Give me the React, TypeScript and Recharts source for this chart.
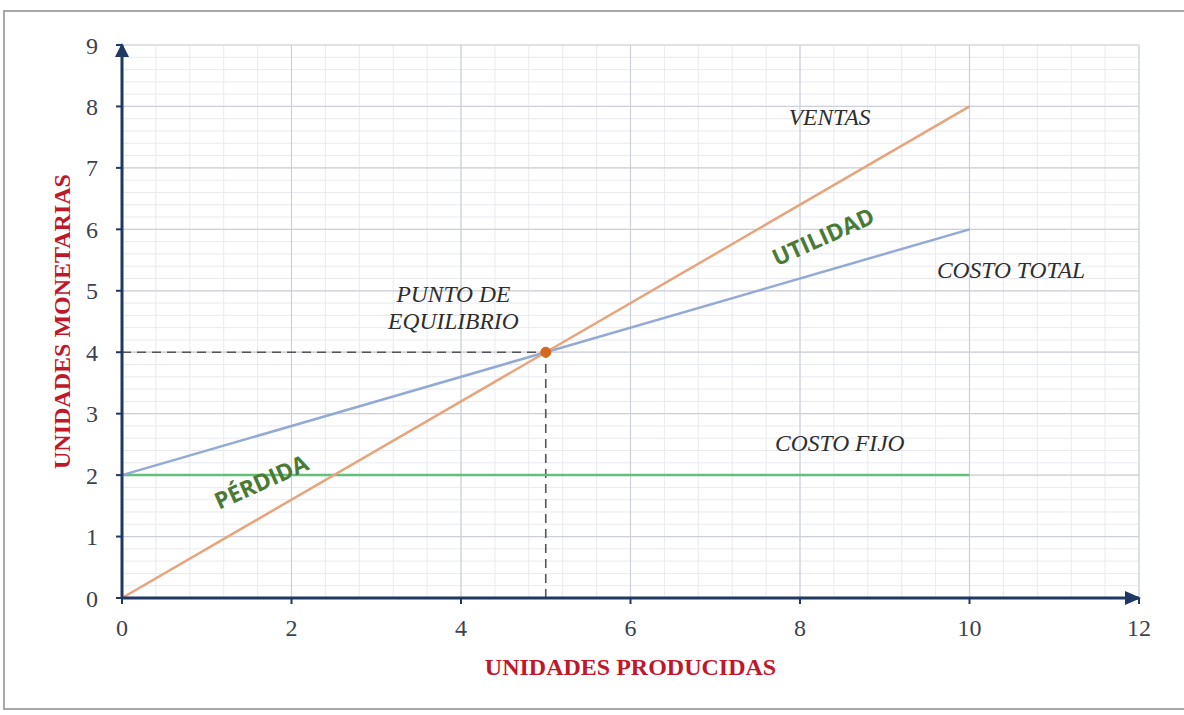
import React from 'react';
import { LineChart, Line, XAxis, YAxis, CartesianGrid, ReferenceLine, ReferenceDot } from 'recharts';

// ---- data ----
const unidades = [0, 5, 10];
const ventas = [0, 4, 8];
const costoTotal = [2, 4, 6];
const costoFijo = [2, 2, 2];

const xTicks = [0, 2, 4, 6, 8, 10, 12];
const yTicks = [0, 1, 2, 3, 4, 5, 6, 7, 8, 9];

const breakEven = { x: 5, y: 4 };

const italicLabels = [
  { text: 'VENTAS', x: 8.35, y: 7.83 },
  { text: 'COSTO TOTAL', x: 10.49, y: 5.34 },
  { text: 'COSTO FIJO', x: 8.47, y: 2.52 },
  { text: 'PUNTO DE', x: 3.91, y: 4.95 },
  { text: 'EQUILIBRIO', x: 3.91, y: 4.51 },
];

const zoneLabels = [
  { text: 'UTILIDAD', x: 8.27, y: 5.89, angle: -24 },
  { text: 'PÉRDIDA', x: 1.64, y: 1.9, angle: -24 },
];

const steps = (end: number, step: number) => {
  const out: number[] = [];
  for (let i = 0; i * step <= end + 1e-9; i++) out.push(+(i * step).toFixed(4));
  return out;
};
const xMinor = steps(12, 0.4);
const yMinor = steps(9, 0.2);

const rows = unidades.map((u, i) => ({
  u,
  ventas: ventas[i],
  costoTotal: costoTotal[i],
  costoFijo: costoFijo[i],
}));

const AXIS = '#1f3864';
const TICK_FONT = { fontFamily: '"Liberation Serif", serif', fontSize: 24, fill: '#3b4352' };

export default function App() {
  return (
    <div style={{ position: 'absolute', left: 0, top: 0, width: 1184, height: 715, background: '#fff', overflow: 'hidden' }}>
      <div style={{ position: 'absolute', left: 3, top: 10, width: 1200, height: 700, border: '2px solid #a8a8a8', boxSizing: 'border-box' }} />
      <div style={{ position: 'absolute', left: 0, top: 0 }}>
        <LineChart width={1184} height={715} data={rows} margin={{ top: 45, right: 45, bottom: 87, left: 62 }}>
          <CartesianGrid verticalValues={xMinor} horizontalValues={yMinor} stroke="#e8eaf0" strokeWidth={1} />
          <CartesianGrid verticalValues={xTicks} horizontalValues={yTicks} stroke="#cdd0da" strokeWidth={1.2} />
          <XAxis
            dataKey="u"
            type="number"
            domain={[0, 12]}
            ticks={xTicks}
            interval={0}
            height={30}
            tick={TICK_FONT}
            tickSize={6}
            tickMargin={15}
            axisLine={{ stroke: AXIS, strokeWidth: 3 }}
            tickLine={{ stroke: AXIS, strokeWidth: 2 }}
            label={{
              content: (p: any) => {
                const vb = p.viewBox || {};
                return (
                  <text
                    x={vb.x + vb.width / 2}
                    y={667}
                    textAnchor="middle"
                    dominantBaseline="central"
                    style={{ fontFamily: '"Liberation Serif", serif', fontWeight: 700, fontSize: 24, fill: '#c0172b' }}
                  >
                    UNIDADES PRODUCIDAS
                  </text>
                );
              },
            }}
          />
          <YAxis
            type="number"
            domain={[0, 9]}
            ticks={yTicks}
            interval={0}
            width={60}
            tick={TICK_FONT}
            tickSize={6}
            tickMargin={18}
            axisLine={{ stroke: AXIS, strokeWidth: 3 }}
            tickLine={{ stroke: AXIS, strokeWidth: 2 }}
            label={{
              content: (p: any) => {
                const vb = p.viewBox || {};
                const cy = vb.y + vb.height / 2;
                return (
                  <text
                    x={62}
                    y={cy}
                    transform={`rotate(-90, 62, ${cy})`}
                    textAnchor="middle"
                    dominantBaseline="central"
                    style={{ fontFamily: '"Liberation Serif", serif', fontWeight: 700, fontSize: 24, fill: '#c0172b' }}
                  >
                    UNIDADES MONETARIAS
                  </text>
                );
              },
            }}
          />
          <ReferenceLine
            segment={[{ x: 0, y: breakEven.y }, { x: breakEven.x, y: breakEven.y }]}
            stroke="#555"
            strokeWidth={1.6}
            strokeDasharray="9 6"
          />
          <ReferenceLine
            segment={[{ x: breakEven.x, y: 0 }, { x: breakEven.x, y: breakEven.y }]}
            stroke="#555"
            strokeWidth={1.6}
            strokeDasharray="9 6"
          />
          <Line dataKey="costoFijo" stroke="#62c07a" strokeWidth={2.5} dot={false} isAnimationActive={false} />
          <Line dataKey="costoTotal" stroke="#92aad4" strokeWidth={2.5} dot={false} isAnimationActive={false} />
          <Line dataKey="ventas" stroke="#e8a47c" strokeWidth={2.5} dot={false} isAnimationActive={false} />
          <ReferenceDot x={breakEven.x} y={breakEven.y} r={5} fill="#d2691e" stroke="#d2691e" />
          <ReferenceDot
            x={12}
            y={0}
            shape={(p: any) => (
              <path d={`M${p.cx + 2},${p.cy} L${p.cx - 14},${p.cy - 7} L${p.cx - 14},${p.cy + 7} Z`} fill={AXIS} />
            )}
          />
          <ReferenceDot
            x={0}
            y={9}
            shape={(p: any) => (
              <path d={`M${p.cx},${p.cy - 2} L${p.cx - 7},${p.cy + 12} L${p.cx + 7},${p.cy + 12} Z`} fill={AXIS} />
            )}
          />
          {italicLabels.map((l) => (
            <ReferenceDot
              key={l.text}
              x={l.x}
              y={l.y}
              shape={(p: any) => (
                <text
                  x={p.cx}
                  y={p.cy}
                  textAnchor="middle"
                  dominantBaseline="central"
                  style={{ fontFamily: '"Liberation Serif", serif', fontStyle: 'italic', fontSize: 23.5, fill: '#2e2e2e' }}
                >
                  {l.text}
                </text>
              )}
            />
          ))}
          {zoneLabels.map((l) => (
            <ReferenceDot
              key={l.text}
              x={l.x}
              y={l.y}
              shape={(p: any) => (
                <text
                  x={p.cx}
                  y={p.cy}
                  transform={`rotate(${l.angle}, ${p.cx}, ${p.cy})`}
                  textAnchor="middle"
                  dominantBaseline="central"
                  style={{ fontFamily: '"Open Sans", sans-serif', fontWeight: 700, fontSize: 23, fill: '#4a7a35' }}
                >
                  {l.text}
                </text>
              )}
            />
          ))}
        </LineChart>
      </div>
    </div>
  );
}
